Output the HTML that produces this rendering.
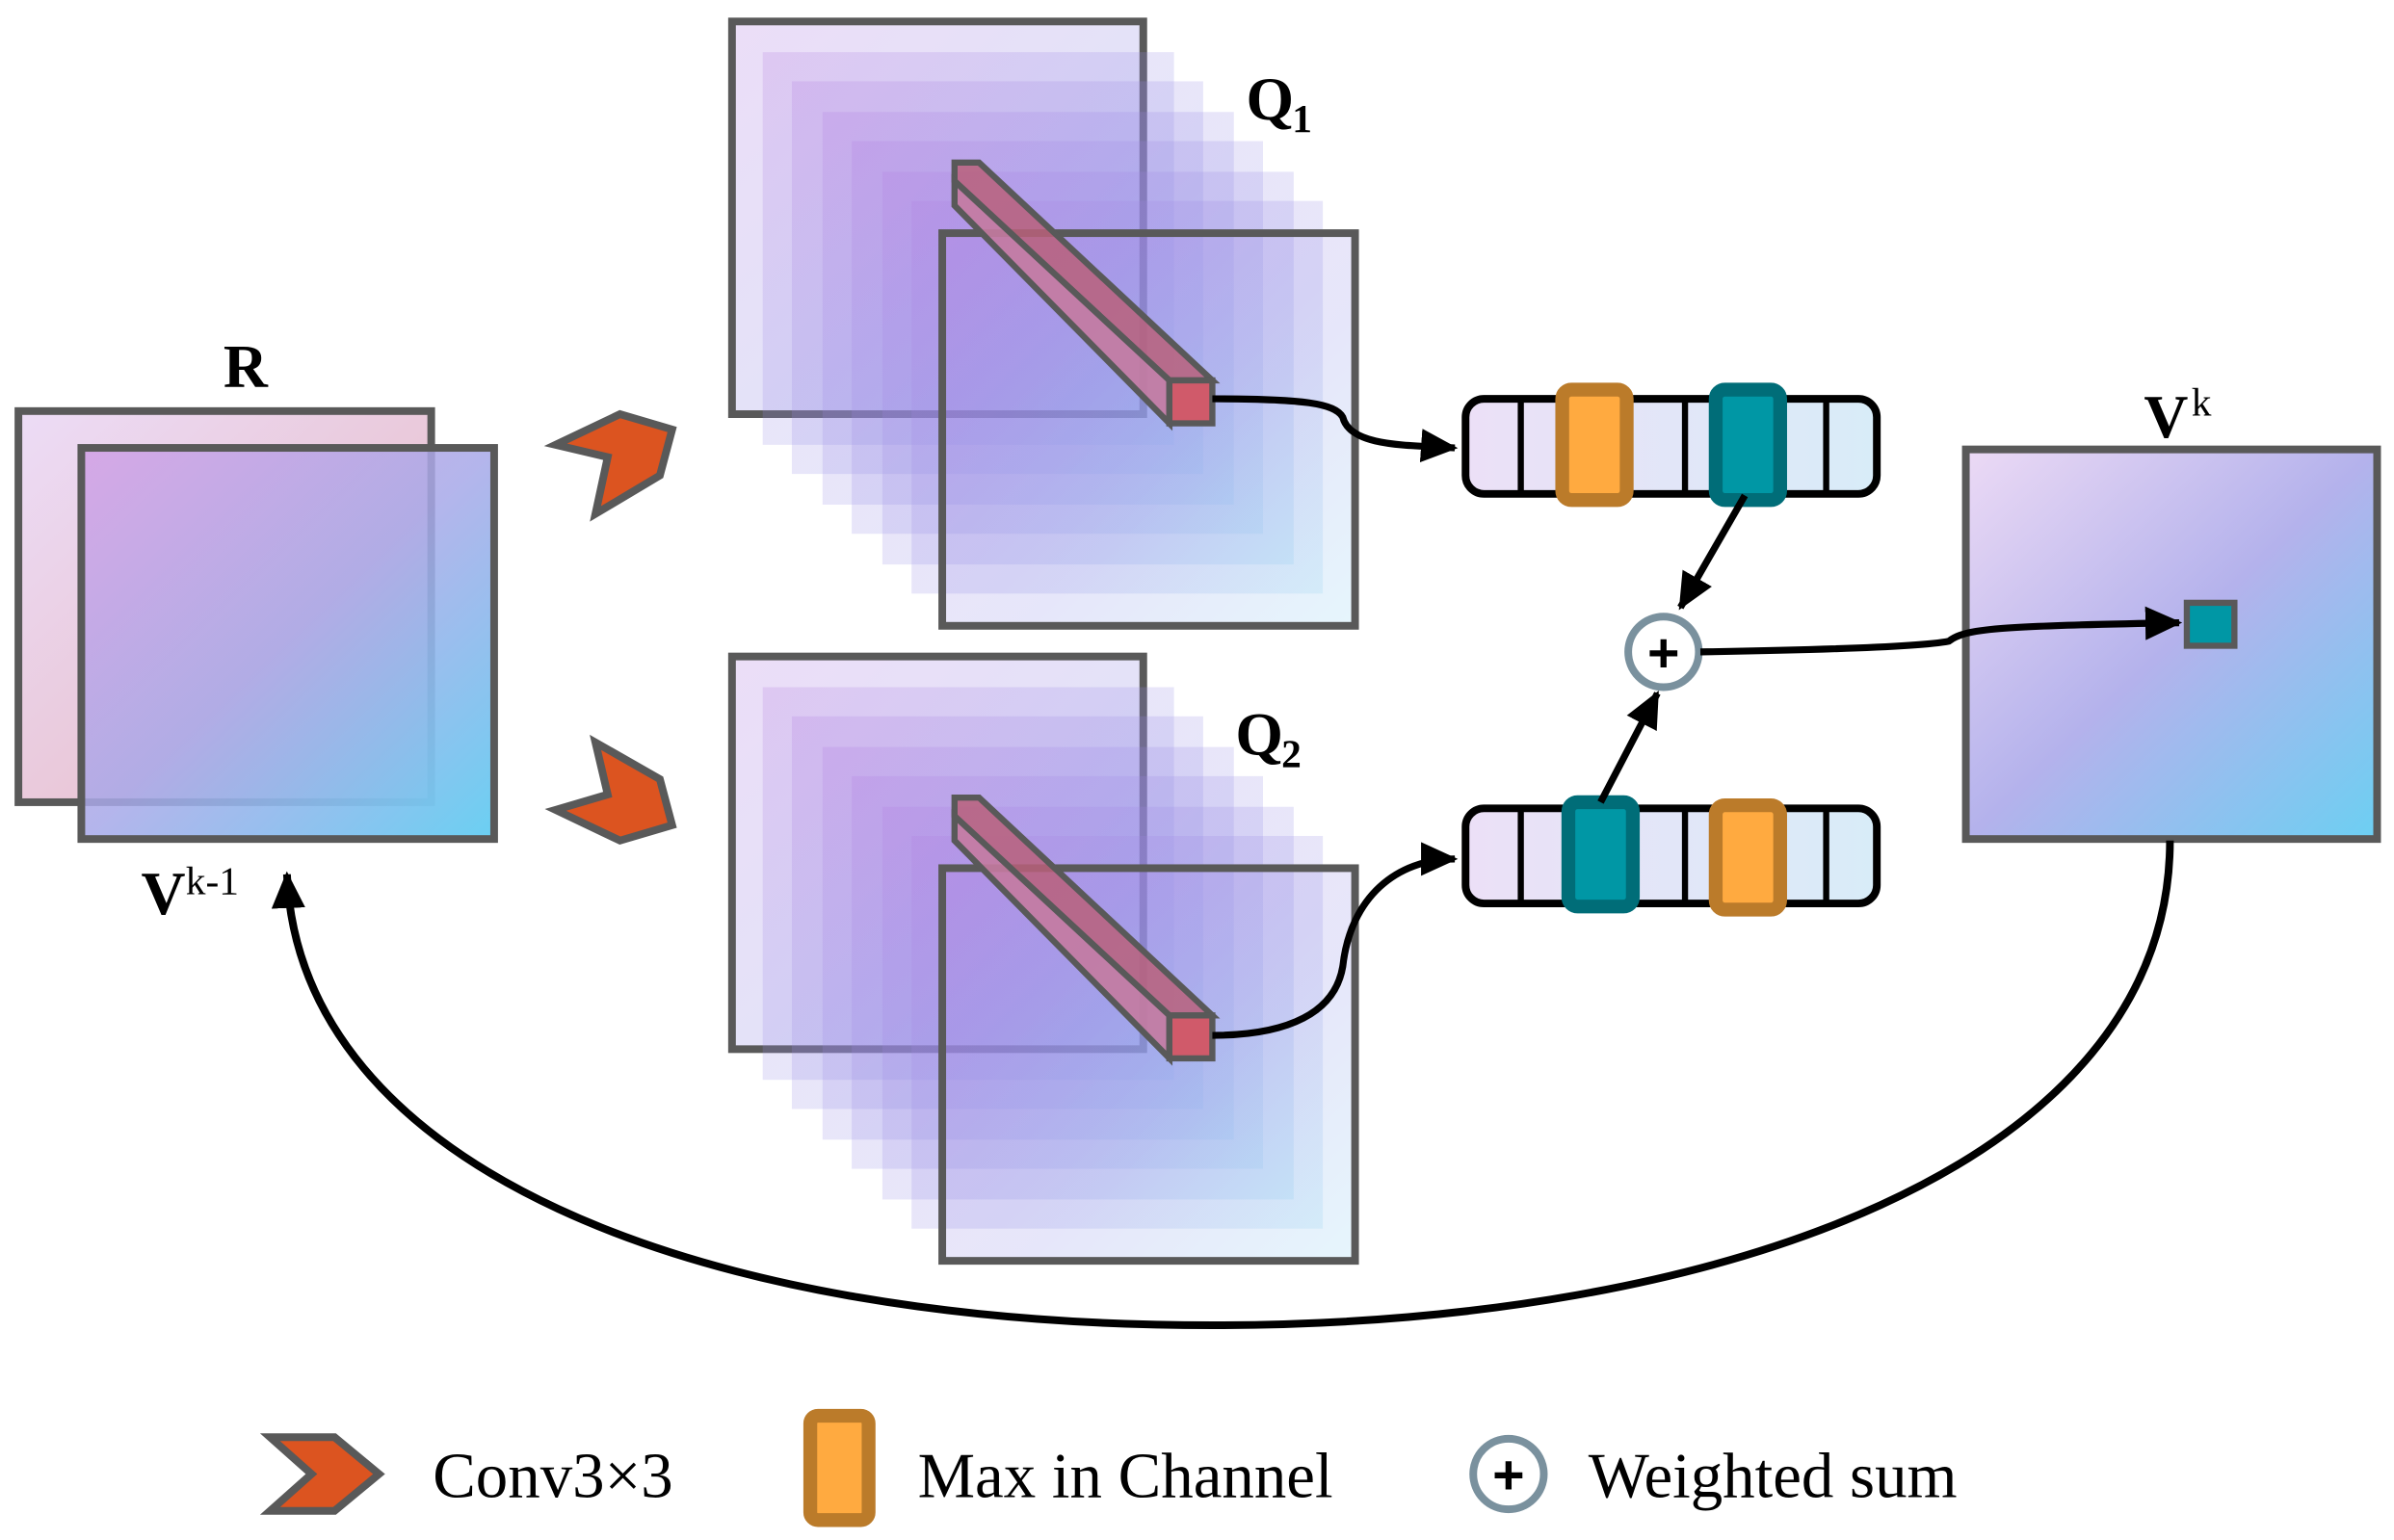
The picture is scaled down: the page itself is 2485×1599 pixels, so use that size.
<!DOCTYPE html>
<html><head><meta charset="utf-8"><style>html,body{margin:0;padding:0;background:#fff}svg{display:block}</style></head>
<body>
<svg width="2485" height="1599" viewBox="0 0 1560 1004" preserveAspectRatio="none" xmlns="http://www.w3.org/2000/svg" font-family="Liberation Serif, serif">
<defs>
<linearGradient id="gR" x1="0" y1="0" x2="1" y2="1"><stop offset="0" stop-color="#ecdcf6"/><stop offset="1" stop-color="#e8b8c2"/></linearGradient>
<linearGradient id="gV" x1="0" y1="0" x2="1" y2="1"><stop offset="0" stop-color="#d2a0e4" stop-opacity="0.85"/><stop offset="0.5" stop-color="#a7a8e8" stop-opacity="0.85"/><stop offset="1" stop-color="#6ad0f2"/></linearGradient>
<linearGradient id="gK" x1="0" y1="0" x2="1" y2="1"><stop offset="0" stop-color="#ecdaf5"/><stop offset="0.5" stop-color="#b4b2ec"/><stop offset="1" stop-color="#6ccff2"/></linearGradient>
<linearGradient id="gL" x1="0" y1="0" x2="1" y2="1"><stop offset="0" stop-color="#b17ae0"/><stop offset="0.6" stop-color="#8f8ee6"/><stop offset="1" stop-color="#8fd4f2"/></linearGradient>
<linearGradient id="gBar" x1="0" y1="0" x2="1" y2="0"><stop offset="0" stop-color="#ece0f7"/><stop offset="1" stop-color="#d8ecf8"/></linearGradient>
<marker id="ar2" markerWidth="24" markerHeight="22" refX="22" refY="11" orient="auto" markerUnits="userSpaceOnUse"><path d="M0,0 L24,11 L0,22 z" fill="#000"/></marker>
</defs>

<rect x="12" y="268" width="269" height="255" fill="url(#gR)" stroke="#595959" stroke-width="5"/>
<rect x="53" y="292" width="269" height="255" fill="url(#gV)" stroke="#595959" stroke-width="5"/>
<text x="160" y="252" font-size="40" font-weight="bold" text-anchor="middle">R</text>
<text x="92" y="596" font-size="40" font-weight="bold">V</text><text x="121" y="583" font-size="26">k-1</text>

<polygon points="362,290 404,270 438,280 430,310 388,335 396,298" fill="#dc5420" stroke="#595959" stroke-width="5"/>
<polygon points="362,528 396,518 388,484 430,508 438,538 404,548" fill="#dc5420" stroke="#595959" stroke-width="5"/>

<g id="stack1">
<rect x="477" y="14" width="268" height="256" fill="url(#gL)" fill-opacity="0.25" stroke="#595959" stroke-width="5"/>
<rect x="497" y="34" width="268" height="256" fill="url(#gL)" fill-opacity="0.22"/>
<rect x="516" y="53" width="268" height="256" fill="url(#gL)" fill-opacity="0.22"/>
<rect x="536" y="73" width="268" height="256" fill="url(#gL)" fill-opacity="0.22"/>
<rect x="555" y="92" width="268" height="256" fill="url(#gL)" fill-opacity="0.22"/>
<rect x="575" y="112" width="268" height="256" fill="url(#gL)" fill-opacity="0.22"/>
<rect x="594" y="131" width="268" height="256" fill="url(#gL)" fill-opacity="0.22"/>
<rect x="614" y="152" width="269" height="256" fill="url(#gL)" fill-opacity="0.22" stroke="#595959" stroke-width="5"/>
<polygon points="622,106 638,106 790,248 762,248 622,118" fill="#b8607a" fill-opacity="0.85" stroke="#595959" stroke-width="4"/>
<polygon points="622,118 762,248 762,276 622,134" fill="#c47aa0" fill-opacity="0.9" stroke="#595959" stroke-width="4"/>
<rect x="762" y="248" width="28" height="28" fill="#d05a6a" stroke="#595959" stroke-width="4"/>
</g>
<use href="#stack1" transform="translate(0,414)"/>
<text x="812" y="78" font-size="40" font-weight="bold">Q</text><text x="842" y="86" font-size="26" font-weight="bold">1</text>
<text x="805" y="492" font-size="40" font-weight="bold">Q</text><text x="835" y="500" font-size="26" font-weight="bold">2</text>

<path d="M790,260 C850,260 870,263 875,272 C880,292 920,290 948,292" fill="none" stroke="#000" stroke-width="4.5" marker-end="url(#ar2)"/>
<path d="M790,675 C840,675 870,660 875,630 C880,585 910,560 948,560" fill="none" stroke="#000" stroke-width="4.5" marker-end="url(#ar2)"/>

<g>
<rect x="955" y="260" width="268" height="62" rx="12" fill="url(#gBar)" stroke="#000" stroke-width="5"/>
<line x1="991" y1="260" x2="991" y2="322" stroke="#000" stroke-width="4"/>
<line x1="1062" y1="260" x2="1062" y2="322" stroke="#000" stroke-width="4"/>
<line x1="1098" y1="260" x2="1098" y2="322" stroke="#000" stroke-width="4"/>
<line x1="1190" y1="260" x2="1190" y2="322" stroke="#000" stroke-width="4"/>
<rect x="1018" y="254" width="42" height="72" rx="6" fill="#ffaa40" stroke="#bb7b2a" stroke-width="9"/>
<rect x="1118" y="254" width="42" height="72" rx="6" fill="#0097a5" stroke="#006d78" stroke-width="9"/>
</g>
<g>
<rect x="955" y="527" width="268" height="62" rx="12" fill="url(#gBar)" stroke="#000" stroke-width="5"/>
<line x1="991" y1="527" x2="991" y2="589" stroke="#000" stroke-width="4"/>
<line x1="1062" y1="527" x2="1062" y2="589" stroke="#000" stroke-width="4"/>
<line x1="1098" y1="527" x2="1098" y2="589" stroke="#000" stroke-width="4"/>
<line x1="1190" y1="527" x2="1190" y2="589" stroke="#000" stroke-width="4"/>
<rect x="1022" y="523" width="42" height="68" rx="6" fill="#0097a5" stroke="#006d78" stroke-width="9"/>
<rect x="1118" y="525" width="42" height="68" rx="6" fill="#ffaa40" stroke="#bb7b2a" stroke-width="9"/>
</g>

<line x1="1137" y1="323" x2="1095" y2="396" stroke="#000" stroke-width="4.5" marker-end="url(#ar2)"/>
<line x1="1043" y1="523" x2="1080" y2="452" stroke="#000" stroke-width="4.5" marker-end="url(#ar2)"/>
<circle cx="1084" cy="425" r="23" fill="#fff" stroke="#7a919e" stroke-width="5"/>
<text x="1084" y="438" font-size="36" font-weight="bold" text-anchor="middle" font-family="Liberation Sans, sans-serif">+</text>

<rect x="1281" y="293" width="268" height="254" fill="url(#gK)" stroke="#595959" stroke-width="5"/>
<path d="M1108,425 C1170,424 1250,422 1270,418 C1280,410 1300,408 1420,406" fill="none" stroke="#000" stroke-width="4.5" marker-end="url(#ar2)"/>
<rect x="1425" y="393" width="31" height="28" fill="#0097a5" stroke="#595959" stroke-width="4"/>
<text x="1397" y="285" font-size="40" font-weight="bold">V</text><text x="1428" y="271" font-size="26">k</text>

<path d="M1414,548 C1414,760 1120,864 790,864 C450,864 195,760 187,570" fill="none" stroke="#000" stroke-width="5" marker-end="url(#ar2)"/>

<polygon points="176,937 218,937 247,961 218,985 176,985 203,961" fill="#dc5420" stroke="#595959" stroke-width="5"/>
<text x="282" y="976" font-size="42">Conv3×3</text>
<rect x="528" y="923" width="38" height="68" rx="5" fill="#ffaa40" stroke="#bb7b2a" stroke-width="9"/>
<text x="598" y="976" font-size="42">Max in Channel</text>
<circle cx="983" cy="961" r="23" fill="#fff" stroke="#7a919e" stroke-width="5"/>
<text x="983" y="974" font-size="36" font-weight="bold" text-anchor="middle" font-family="Liberation Sans, sans-serif">+</text>
<text x="1035" y="976" font-size="42">Weighted sum</text>
</svg>
</body></html>
